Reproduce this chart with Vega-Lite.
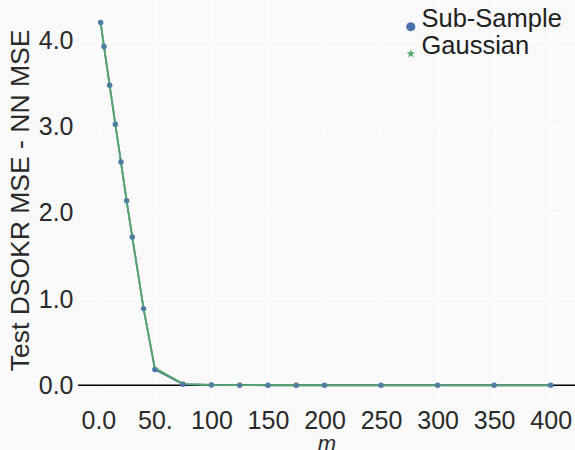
{
  "$schema": "https://vega.github.io/schema/vega-lite/v6.json",
  "width": 497,
  "height": 400,
  "autosize": {"type": "none"},
  "padding": {"left": 78, "top": 0, "right": 0, "bottom": 50},
  "background": "#f9f9f9",
  "config": {
    "view": {"stroke": null, "fill": "#f9f9f9"},
    "font": "Liberation Sans",
    "axis": {"gridColor": "#ffffff", "gridWidth": 1.5, "domain": false, "ticks": false, "labelColor": "#2a2a2a", "titleColor": "#2a2a2a", "labelFontSize": 25, "titleFontSize": 26.5, "titleFontWeight": "normal", "labelFont": "Liberation Sans", "titleFont": "Liberation Sans"},
    "legend": {"orient": "none", "legendX": 320, "legendY": 14, "title": null, "labelFontSize": 25.5, "labelColor": "#222222", "labelFont": "Liberation Sans", "labelBaseline": "alphabetic", "symbolSize": 85, "rowPadding": 0, "labelOffset": -2, "symbolOpacity": 1, "symbolStrokeWidth": 0}
  },
  "datasets": {
    "pts": [
      {"m": 2, "v": 4.21, "s": "Sub-Sample"},
      {"m": 5, "v": 3.93, "s": "Sub-Sample"},
      {"m": 10, "v": 3.48, "s": "Sub-Sample"},
      {"m": 15, "v": 3.03, "s": "Sub-Sample"},
      {"m": 20, "v": 2.59, "s": "Sub-Sample"},
      {"m": 25, "v": 2.14, "s": "Sub-Sample"},
      {"m": 30, "v": 1.72, "s": "Sub-Sample"},
      {"m": 40, "v": 0.89, "s": "Sub-Sample"},
      {"m": 50, "v": 0.185, "s": "Sub-Sample"},
      {"m": 75, "v": 0.012, "s": "Sub-Sample"},
      {"m": 100, "v": 0.004, "s": "Sub-Sample"},
      {"m": 125, "v": 0.002, "s": "Sub-Sample"},
      {"m": 150, "v": 0.001, "s": "Sub-Sample"},
      {"m": 175, "v": 0.001, "s": "Sub-Sample"},
      {"m": 200, "v": 0.0, "s": "Sub-Sample"},
      {"m": 250, "v": 0.0, "s": "Sub-Sample"},
      {"m": 300, "v": 0.0, "s": "Sub-Sample"},
      {"m": 350, "v": 0.0, "s": "Sub-Sample"},
      {"m": 400, "v": 0.0, "s": "Sub-Sample"},
      {"m": 2, "v": 4.21, "s": "Gaussian"},
      {"m": 5, "v": 3.93, "s": "Gaussian"},
      {"m": 10, "v": 3.48, "s": "Gaussian"},
      {"m": 15, "v": 3.03, "s": "Gaussian"},
      {"m": 20, "v": 2.59, "s": "Gaussian"},
      {"m": 25, "v": 2.14, "s": "Gaussian"},
      {"m": 30, "v": 1.72, "s": "Gaussian"},
      {"m": 40, "v": 0.89, "s": "Gaussian"},
      {"m": 50, "v": 0.2, "s": "Gaussian"},
      {"m": 75, "v": 0.018, "s": "Gaussian"},
      {"m": 100, "v": 0.005, "s": "Gaussian"},
      {"m": 125, "v": 0.002, "s": "Gaussian"},
      {"m": 150, "v": 0.001, "s": "Gaussian"},
      {"m": 175, "v": 0.001, "s": "Gaussian"},
      {"m": 200, "v": 0.0, "s": "Gaussian"},
      {"m": 250, "v": 0.0, "s": "Gaussian"},
      {"m": 300, "v": 0.0, "s": "Gaussian"},
      {"m": 350, "v": 0.0, "s": "Gaussian"},
      {"m": 400, "v": 0.0, "s": "Gaussian"}
    ],
    "zero": [{"y": 0}]
  },
  "layer": [
    {
      "data": {"name": "zero"},
      "mark": {"type": "rule", "color": "#000000", "strokeWidth": 1.5},
      "encoding": {"y": {"field": "y", "type": "quantitative", "scale": {"domain": [-0.17, 4.47]}}}
    },
    {
      "data": {"name": "pts"},
      "mark": {"type": "line", "strokeWidth": 1.8},
      "encoding": {
        "x": {"field": "m", "type": "quantitative", "scale": {"domain": [-18, 421.5], "nice": false, "zero": false},
          "axis": {"values": [0, 50, 100, 150, 200, 250, 300, 350, 400], "format": "d", "labelExpr": "datum.value == 0 ? '0.0' : datum.value == 50 ? '50.' : datum.label", "labelPadding": 8, "title": "m", "titleFontStyle": "italic", "titleFontSize": 22, "titlePadding": 0}},
        "y": {"field": "v", "type": "quantitative", "scale": {"domain": [-0.17, 4.47], "nice": false, "zero": false},
          "axis": {"values": [0, 1, 2, 3, 4], "format": ".1f", "labelPadding": 5, "title": "Test DSOKR MSE - NN MSE", "titlePadding": 4}},
        "color": {"field": "s", "type": "nominal", "scale": {"domain": ["Sub-Sample", "Gaussian"], "range": ["#4c72b0", "#55a868"]}},
        "shape": {"field": "s", "type": "nominal", "scale": {"domain": ["Sub-Sample", "Gaussian"], "range": ["circle", "M0,-1L0.235,-0.324L0.951,-0.309L0.38,0.124L0.588,0.809L0,0.4L-0.588,0.809L-0.38,0.124L-0.951,-0.309L-0.235,-0.324Z"]}}
      }
    },
    {
      "data": {"name": "pts"},
      "mark": {"type": "point", "filled": true, "opacity": 1},
      "encoding": {
        "x": {"field": "m", "type": "quantitative"},
        "y": {"field": "v", "type": "quantitative"},
        "color": {"field": "s", "type": "nominal"},
        "shape": {"field": "s", "type": "nominal"},
        "order": {"field": "s", "sort": "ascending"},
        "size": {"value": 6}
      }
    }
  ]
}
